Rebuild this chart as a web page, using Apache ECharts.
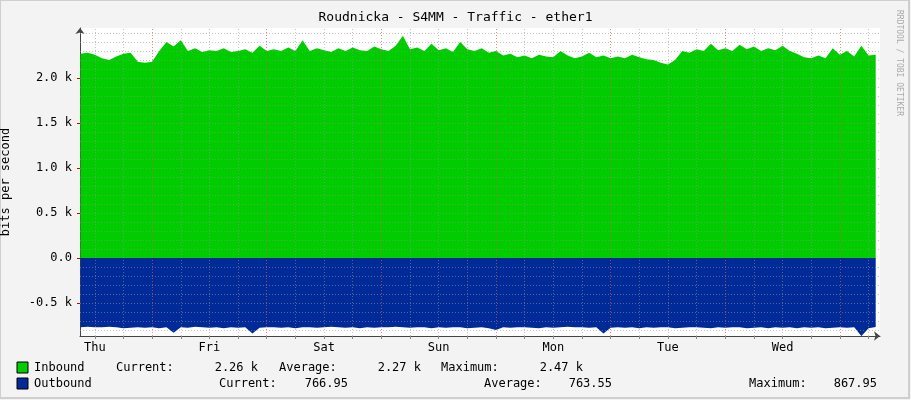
<!DOCTYPE html>
<html><head><meta charset="utf-8">
<script src="https://cdn.jsdelivr.net/npm/echarts@6/dist/echarts.min.js"></script>
<style>html,body{margin:0;background:#f3f3f3}#c{width:911px;height:400px}</style>
</head><body><div id="c"></div>
<script>
const title = 'Roudnicka - S4MM - Traffic - ether1';
const dayNames = ['Thu','Fri','Sat','Sun','Mon','Tue','Wed'];
const dayLabelHours = [12,36,60,84,108,132,156];
const midnightHours = [24,48,72,96,120,144,168];
const minorHours = [12,18,30,36,42,54,60,66,78,84,90,102,108,114,126,132,138,150,156,162,174];
const yLabelVals = [-0.5,0,0.5,1.0,1.5,2.0];
const yGridVals = [-0.8,-0.7,-0.6,-0.5,-0.4,-0.3,-0.2,-0.1,0.1,0.2,0.3,0.4,0.5,0.6,0.7,0.8,0.9,1.0,1.1,1.2,1.3,1.4,1.5,1.6,1.7,1.8,1.9,2.0,2.1,2.2,2.3,2.4,2.5];
const startHour = 9, stepHours = 1.5;
const inbound = [2.27,2.28,2.26,2.22,2.2,2.24,2.27,2.28,2.18,2.17,2.18,
2.3,2.4,2.35,2.42,2.3,2.33,2.29,2.31,2.3,2.33,2.29,2.3,2.32,2.28,2.36,2.3,
2.32,2.3,2.34,2.3,2.42,2.3,2.33,2.31,2.29,2.33,2.3,2.34,2.31,2.3,2.35,2.32,
2.3,2.36,2.47,2.32,2.34,2.3,2.38,2.31,2.33,2.29,2.4,2.32,2.3,2.33,2.28,2.3,
2.25,2.27,2.23,2.25,2.22,2.26,2.24,2.23,2.3,2.25,2.22,2.24,2.28,2.23,2.25,2.22,
2.24,2.22,2.26,2.23,2.21,2.2,2.17,2.15,2.2,2.3,2.28,2.32,2.3,2.38,2.31,2.33,
2.3,2.37,2.32,2.35,2.3,2.33,2.31,2.36,2.3,2.27,2.23,2.22,2.25,2.22,2.33,2.26,
2.3,2.24,2.36,2.25,2.26];
const outbound = [-.77,-.765,-.77,-.77,-.765,-.77,-.78,-.775,-.77,-.775,-.77,
-.78,-.77,-.83,-.77,-.775,-.765,-.77,-.775,-.77,-.78,-.77,-.775,-.77,-.84,-.775,-.77,
-.77,-.775,-.77,-.78,-.77,-.77,-.775,-.77,-.765,-.77,-.775,-.77,-.78,-.77,-.775,-.77,
-.77,-.765,-.77,-.775,-.77,-.77,-.78,-.77,-.775,-.77,-.77,-.78,-.775,-.77,-.78,-.8,
-.77,-.775,-.77,-.77,-.775,-.78,-.77,-.775,-.77,-.765,-.77,-.77,-.775,-.77,-.84,-.775,
-.77,-.775,-.77,-.78,-.77,-.775,-.77,-.77,-.78,-.775,-.77,-.77,-.775,-.78,-.77,-.775,
-.77,-.77,-.78,-.775,-.77,-.78,-.77,-.775,-.77,-.78,-.77,-.775,-.77,-.78,-.775,-.77,
-.775,-.77,-.868,-.78,-.767];
const mono = 'DejaVu Sans Mono';
const pts = a => a.map((v,i)=>[startHour+i*stepHours, v]);
const fmtY = v => v===0 ? '0.0' : v.toFixed(1)+' k';
const chart = echarts.init(document.getElementById('c'));
const txt = (x,y,s,align) => ({type:'text',x:x,y:y,style:{text:s,font:'12px '+mono,fill:'#000',align:align||'left',verticalAlign:'middle'}});
chart.setOption({
  backgroundColor:'#f3f3f3',
  animation:false,
  title:{text:title,left:'center',top:6,textStyle:{fontFamily:mono,fontSize:13,fontWeight:'normal',color:'#000'}},
  grid:{left:80,right:31,top:28,bottom:64,backgroundColor:'#fff',show:true,borderWidth:0,containLabel:false,outerBoundsMode:'none'},
  xAxis:{type:'value',min:8.9,max:176.4,
    axisLine:{onZero:false,lineStyle:{color:'#444'},symbol:['none','arrow'],symbolSize:[7,6]},
    axisTick:{customValues:minorHours.concat(midnightHours),length:3,inside:false,lineStyle:{color:'#888'}},
    axisLabel:{customValues:dayLabelHours,formatter:v=>dayNames[dayLabelHours.indexOf(v)]||'',fontFamily:mono,fontSize:12,color:'#000',margin:6},
    splitLine:{show:false}},
  yAxis:{type:'value',min:-0.867,max:2.556,name:'bits per second',nameLocation:'middle',nameGap:68,nameRotate:90,
    nameTextStyle:{fontFamily:mono,fontSize:12,color:'#000'},
    axisLine:{show:true,lineStyle:{color:'#444'},symbol:['none','arrow'],symbolSize:[7,6]},
    axisTick:{show:true,customValues:yLabelVals,length:3,lineStyle:{color:'#c00'}},
    axisLabel:{customValues:yLabelVals,formatter:fmtY,fontFamily:mono,fontSize:12,color:'#000',margin:8},
    splitLine:{show:false}},
  series:[
    {type:'line',data:pts(inbound),showSymbol:false,lineStyle:{width:0},areaStyle:{color:'#00cc00',opacity:1},z:1},
    {type:'line',data:pts(outbound),showSymbol:false,lineStyle:{width:0},areaStyle:{color:'#002a97',opacity:1},z:1},
    {type:'line',data:[],z:5,markLine:{silent:true,symbol:'none',label:{show:false},
      data:[].concat(
        yGridVals.map(v=>({yAxis:v,lineStyle:{color:'rgba(150,150,150,0.55)',type:[1,2],width:1}})),
        minorHours.map(h=>({xAxis:h,lineStyle:{color:'rgba(150,150,150,0.55)',type:[1,2],width:1}})),
        midnightHours.map(h=>({xAxis:h,lineStyle:{color:'rgba(230,80,80,0.7)',type:[1,2],width:1}}))
      )}}
  ],
  graphic:[
    {type:'rect',shape:{x:0,y:0,width:909,height:398},style:{fill:'none',stroke:'#cfcfcf',lineWidth:2}},
    {type:'text',x:903,y:10,rotation:-Math.PI/2,style:{text:'RRDTOOL / TOBI OETIKER',font:'8px '+mono,fill:'#aaa'}},
    {type:'rect',shape:{x:17,y:362,width:11,height:11},style:{fill:'#00cc00',stroke:'#000'}},
    {type:'rect',shape:{x:17,y:378,width:11,height:11},style:{fill:'#002a97',stroke:'#000'}},
    txt(34,368,'Inbound'),txt(116,368,'Current:'),txt(258,368,'2.26 k','right'),
    txt(279,368,'Average:'),txt(421,368,'2.27 k','right'),txt(441,368,'Maximum:'),txt(583,368,'2.47 k','right'),
    txt(34,384,'Outbound'),txt(219,384,'Current:'),txt(348,384,'766.95','right'),
    txt(484,384,'Average:'),txt(612,384,'763.55','right'),txt(749,384,'Maximum:'),txt(877,384,'867.95','right')
  ]
});
</script></body></html>
